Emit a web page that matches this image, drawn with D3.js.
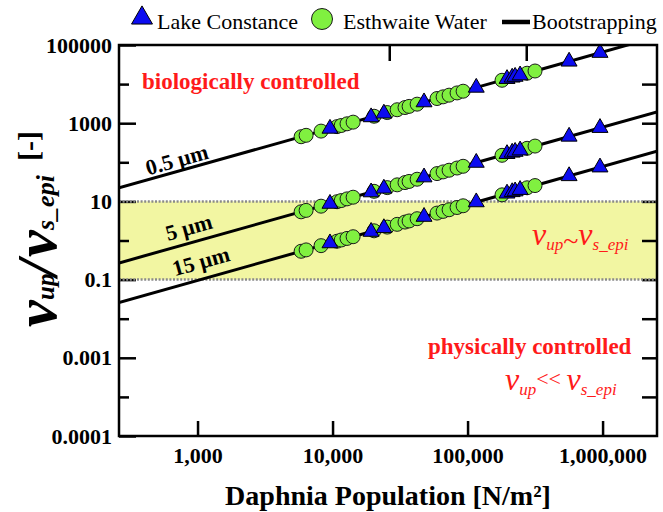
<!DOCTYPE html>
<html>
<head>
<meta charset="utf-8">
<script src="https://cdn.jsdelivr.net/npm/d3@7"></script>
<style>
  body { margin: 0; background: #fff; }
  text { font-family: "Liberation Serif", "Times New Roman", serif; }
</style>
</head>
<body>
<svg id="chart" width="663" height="512"></svg>
<script>
// Daphnia population density per sampling date [N/m²]
const esthwaitePop = [5850, 6370, 8220, 10800, 11600, 12800, 14200, 20300, 25400, 30100, 34400, 36900, 42300, 59400, 65900, 73000, 83600, 92700, 180000, 276000, 316000];
const constancePop = [9570, 19300, 24000, 47600, 116000, 196000, 214000, 225000, 245000, 565000, 957000];

// v_up / v_s_epi for each particle diameter
const esthwaite05 = [451, 490, 628, 817, 873, 964, 1064, 1507, 1871, 2208, 2518, 2692, 3069, 4276, 4721, 5212, 5943, 6577, 12530, 18970, 21630];
const esthwaite5  = [5.42, 5.89, 7.55, 9.82, 10.5, 11.6, 12.8, 18.1, 22.5, 26.5, 30.3, 32.4, 36.9, 51.4, 56.8, 62.7, 71.4, 79.1, 151, 228, 260];
const esthwaite15 = [0.530, 0.575, 0.738, 0.959, 1.03, 1.13, 1.25, 1.77, 2.20, 2.59, 2.96, 3.16, 3.61, 5.02, 5.55, 6.12, 6.98, 7.73, 14.7, 22.3, 25.4];
const constance05 = [728, 1432, 1778, 3451, 8147, 13610, 14790, 15520, 16870, 37930, 63390];
const constance5  = [8.75, 17.2, 21.4, 41.5, 97.9, 164, 178, 187, 203, 456, 762];
const constance15 = [0.855, 1.68, 2.09, 4.06, 9.57, 16.0, 17.4, 18.2, 19.8, 44.6, 74.5];

// bootstrapped power-law fits: log10(ratio) = intercept + slope * log10(N)
const sizeLabels   = ["0.5 µm", "5 µm", "15 µm"];
const fitIntercept = [-1.00, -2.92, -3.93];
const fitSlope     = [0.97, 0.97, 0.97];

// axes
const xDomain = [262, 2.53e6];
const yDomain = [1e-5, 1e5];
const xTicks = [1e3, 1e4, 1e5, 1e6];
const xTickLabels = ["1,000", "10,000", "100,000", "1,000,000"];
const topTicks = [26300, 272000];
const yTicks = [1e5, 1e3, 1e1, 1e-1, 1e-3, 1e-5];
const yTickLabels = ["100000", "1000", "10", "0.1", "0.001", "0.0001"];
const yMinorTicks = [1e4, 1e2, 1, 1e-2, 1e-4];
const rightTicks = [1e4, 1e3, 1e2, 1e1, 1, 1e-1, 1e-2, 1e-3, 1e-4];
const band = [0.1, 10];

const GREEN = "#80f040", BLUE = "#0c0cf0", RED = "#ff1a1a";
const L = 119, R = 657, T = 45, B = 436;

const svg = d3.select("#chart");
const x = d3.scaleLog().domain(xDomain).range([L, R]);
const y = d3.scaleLog().domain(yDomain).range([B, T]);

svg.append("defs").append("clipPath").attr("id", "plotClip")
  .append("rect").attr("x", L).attr("y", T).attr("width", R - L).attr("height", B - T);

// transition zone between biological and physical control
svg.append("rect")
  .attr("x", L).attr("y", y(band[1]))
  .attr("width", R - L).attr("height", y(band[0]) - y(band[1]))
  .attr("fill", "#f2f6a2");

// ticks (all pointing into the plot)
const tickStyle = g => {
  g.select(".domain").remove();
  g.selectAll(".tick line").attr("stroke", "#000").attr("stroke-width", 2.5);
  g.selectAll(".tick text").attr("fill", "#000").style("font-weight", "bold").style("font-size", "22px")
    .style("font-family", "'Liberation Serif', serif");
};
svg.append("g").attr("transform", `translate(${L},0)`)
  .call(d3.axisLeft(y).tickValues(yTicks).tickSize(-17).tickPadding(7).tickFormat((d, i) => yTickLabels[i]))
  .call(tickStyle);
svg.append("g").attr("transform", `translate(${L},0)`)
  .call(d3.axisLeft(y).tickValues(yMinorTicks).tickSize(-10).tickFormat(""))
  .call(tickStyle);
svg.append("g").attr("transform", `translate(${R},0)`)
  .call(d3.axisRight(y).tickValues(rightTicks).tickSize(-15).tickFormat(""))
  .call(tickStyle);
svg.append("g").attr("transform", `translate(0,${B})`)
  .call(d3.axisBottom(x).tickValues(xTicks).tickSize(-15).tickPadding(11).tickFormat((d, i) => xTickLabels[i]))
  .call(tickStyle);
svg.append("g").attr("transform", `translate(0,${T})`)
  .call(d3.axisTop(x).tickValues(topTicks).tickSize(-16).tickFormat(""))
  .call(tickStyle);

// dotted borders of the band
svg.selectAll(".bandEdge").data(band).join("line")
  .attr("x1", L).attr("x2", R)
  .attr("y1", d => y(d)).attr("y2", d => y(d))
  .attr("stroke", "#8a8a8a").attr("stroke-width", 2.5).attr("stroke-dasharray", "2,1.6");

// fit lines
const plot = svg.append("g").attr("clip-path", "url(#plotClip)");
const fitVal = (i, n) => Math.pow(10, fitIntercept[i] + fitSlope[i] * Math.log10(n));
sizeLabels.forEach((s, i) => {
  plot.append("line")
    .attr("x1", x(xDomain[0])).attr("y1", y(fitVal(i, xDomain[0])))
    .attr("x2", x(xDomain[1])).attr("y2", y(fitVal(i, xDomain[1])))
    .attr("stroke", "#000").attr("stroke-width", 3);
});

// size labels, rotated along each fit line
const labelAt = [741, 925, 1150];
const labelLift = [4, 8, 10];
sizeLabels.forEach((s, i) => {
  const n = labelAt[i];
  const px = x(n), py = y(fitVal(i, n));
  const dx = x(n * 10) - px, dy = y(fitVal(i, n * 10)) - py;
  const ang = Math.atan2(dy, dx) * 180 / Math.PI;
  svg.append("text")
    .attr("transform", `translate(${px},${py}) rotate(${ang})`)
    .attr("y", -labelLift[i]).attr("text-anchor", "middle")
    .style("font-weight", "bold").style("font-size", "22px")
    .text(s);
});

// observations
const esthwaiteSets = [esthwaite05, esthwaite5, esthwaite15];
const constanceSets = [constance05, constance5, constance15];
esthwaiteSets.forEach(vals => {
  plot.append("g").selectAll("circle").data(vals).join("circle")
    .attr("cx", (d, j) => x(esthwaitePop[j])).attr("cy", d => y(d)).attr("r", 7)
    .attr("fill", GREEN).attr("stroke", "#1a1a1a").attr("stroke-width", 1);
});
const tri = d3.symbol().type(d3.symbolTriangle).size(110);
constanceSets.forEach(vals => {
  plot.append("g").selectAll("path").data(vals).join("path")
    .attr("d", tri)
    .attr("transform", (d, j) => `translate(${x(constancePop[j])},${y(d)})`)
    .attr("fill", BLUE).attr("stroke", "#000").attr("stroke-width", 1);
});

// frame
svg.append("rect").attr("x", L).attr("y", T).attr("width", R - L).attr("height", B - T)
  .attr("fill", "none").attr("stroke", "#000").attr("stroke-width", 2.5);

// region annotations
svg.append("text").attr("x", 142).attr("y", 89)
  .attr("fill", RED).style("font-weight", "bold").style("font-size", "23px")
  .text("biologically controlled");
svg.append("text").attr("x", 428).attr("y", 354)
  .attr("fill", RED).style("font-weight", "bold").style("font-size", "23px")
  .text("physically controlled");

function ratioLabel(xp, yp, rel, relSize, relShift) {
  const t = svg.append("text").attr("x", xp).attr("y", yp).attr("fill", RED).style("font-style", "italic");
  t.append("tspan").style("font-size", "32px").text("v");
  t.append("tspan").style("font-size", "17px").attr("dy", 5).text("up");
  t.append("tspan").style("font-size", relSize).style("font-style", "normal").attr("dy", relShift).text(rel);
  t.append("tspan").style("font-size", "32px").attr("dy", -5 - relShift).text("v");
  t.append("tspan").style("font-size", "17px").attr("dy", 5).text("s_epi");
}
ratioLabel(532, 245, "~", "28px", 0);
ratioLabel(505, 390, "<< ", "22px", -9);

// axis titles
svg.append("text").attr("x", (L + R) / 2).attr("y", 505).attr("text-anchor", "middle")
  .style("font-weight", "bold").style("font-size", "28px")
  .text("Daphnia Population [N/m²]");

// y title: v_up / v_s_epi [-], written bottom-to-top
const yt = svg.append("g").attr("transform", "translate(56,327) rotate(-90)")
  .style("font-weight", "bold");
const bigV = xp => yt.append("text").attr("x", xp).attr("y", 0)
  .style("font-style", "italic").style("font-size", "60px").text("v");
bigV(0);
yt.append("text").attr("x", 27).attr("y", -2).style("font-style", "italic").style("font-size", "25px").text("up");
yt.append("text").attr("x", 51).attr("y", 1).style("font-style", "italic").style("font-size", "58px").text("/");
bigV(70);
yt.append("text").attr("x", 97).attr("y", -2).style("font-style", "italic").style("font-size", "26px").text("s_epi");
yt.append("text").attr("x", 166).attr("y", -17).style("font-size", "30px").text("[-]");

// legend
const lg = svg.append("g");
lg.append("path").attr("d", d3.symbol().type(d3.symbolTriangle).size(190))
  .attr("transform", "translate(142,18)").attr("fill", BLUE).attr("stroke", "#000").attr("stroke-width", 1);
lg.append("text").attr("x", 157).attr("y", 29).style("font-size", "22px").text("Lake Constance");
lg.append("circle").attr("cx", 322).attr("cy", 19).attr("r", 10.5)
  .attr("fill", GREEN).attr("stroke", "#1a1a1a").attr("stroke-width", 1);
lg.append("text").attr("x", 343).attr("y", 29).style("font-size", "22px").text("Esthwaite Water");
lg.append("line").attr("x1", 502).attr("x2", 530).attr("y1", 22).attr("y2", 22)
  .attr("stroke", "#000").attr("stroke-width", 4.5);
lg.append("text").attr("x", 532).attr("y", 29).style("font-size", "22px").text("Bootstrapping");
</script>
</body>
</html>
